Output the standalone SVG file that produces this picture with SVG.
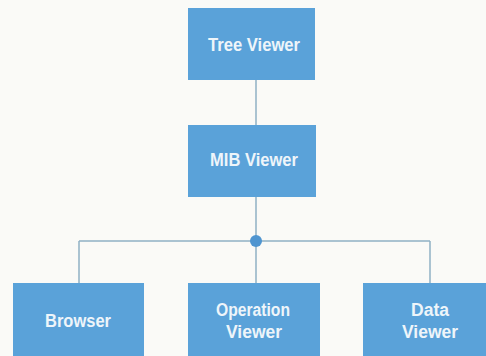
<svg xmlns="http://www.w3.org/2000/svg" width="486" height="356" viewBox="0 0 486 356">
<style>
.box{fill:#5aa2d9}
.lbl{font-family:"Liberation Sans",Arial,sans-serif;font-weight:bold;font-size:18px;fill:#eef5fa;text-anchor:middle}
.ln{stroke:#8fb0c4;stroke-width:1.5;fill:none}
</style>
<rect width="486" height="356" fill="#fafaf7"/>
<g id="connectors">
<line class="ln" x1="256" y1="80" x2="256" y2="125"/>
<line class="ln" x1="256" y1="197" x2="256" y2="283"/>
<line class="ln" x1="79" y1="241" x2="430" y2="241"/>
<line class="ln" x1="79" y1="241" x2="79" y2="283"/>
<line class="ln" x1="430" y1="241" x2="430" y2="283"/>
<circle cx="256" cy="241" r="6" fill="#4f95d0"/>
</g>
<g id="tree-viewer">
<rect class="box" x="188" y="8" width="127" height="72"/>
<text class="lbl" x="254" y="51" textLength="92" lengthAdjust="spacingAndGlyphs">Tree Viewer</text>
</g>
<g id="mib-viewer">
<rect class="box" x="188" y="125" width="128" height="72"/>
<text class="lbl" x="254" y="166" textLength="88" lengthAdjust="spacingAndGlyphs">MIB Viewer</text>
</g>
<g id="browser">
<rect class="box" x="13" y="283" width="131" height="73"/>
<text class="lbl" x="78" y="327" textLength="66" lengthAdjust="spacingAndGlyphs">Browser</text>
</g>
<g id="operation-viewer">
<rect class="box" x="188" y="283" width="132" height="73"/>
<text class="lbl" x="253" y="316" textLength="74" lengthAdjust="spacingAndGlyphs">Operation</text>
<text class="lbl" x="254" y="338" textLength="56" lengthAdjust="spacingAndGlyphs">Viewer</text>
</g>
<g id="data-viewer">
<rect class="box" x="363" y="283" width="123" height="73"/>
<text class="lbl" x="430" y="316" textLength="38" lengthAdjust="spacingAndGlyphs">Data</text>
<text class="lbl" x="430" y="338" textLength="56" lengthAdjust="spacingAndGlyphs">Viewer</text>
</g>
</svg>
